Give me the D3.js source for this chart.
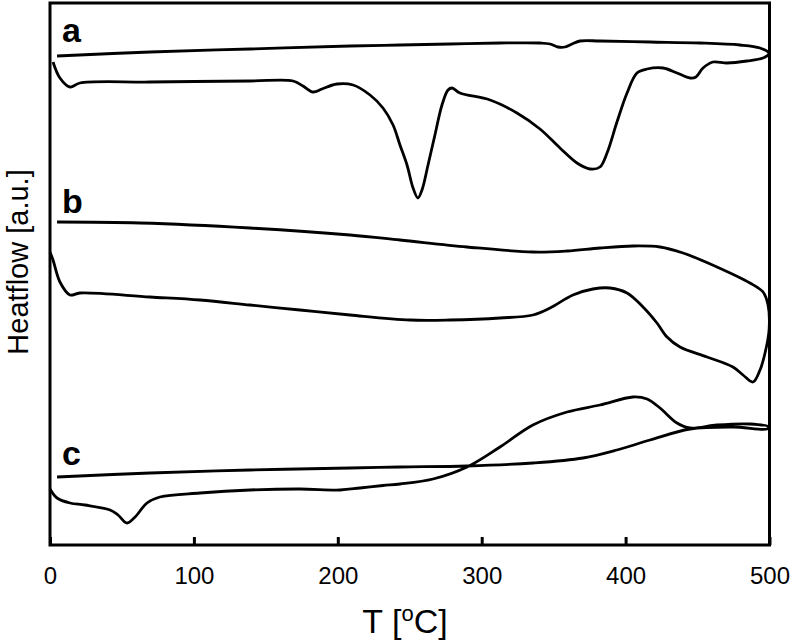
<!DOCTYPE html>
<html>
<head>
<meta charset="utf-8">
<script src="https://cdn.jsdelivr.net/npm/d3@7"></script>
<style>
  html, body { margin: 0; padding: 0; background: #fff; }
  svg { display: block; }
  text { font-family: "Liberation Sans", Arial, sans-serif; fill: #000; }
</style>
</head>
<body>
<svg id="chart" width="791" height="643"></svg>
<script>
// ---- Data (T in °C, heat flow in arbitrary units) ----
const xTicks = [0, 100, 200, 300, 400, 500];
const sampleLabels = ["a", "b", "c"];

// sample a: heating (left→right) then cooling (right→left)
const aHeating = [[2.1,48.3],[6.9,46.7],[13.9,45.8],[20.8,46.2],[69.5,46.3],[139,46.4],[168.9,46.4],[175.8,45.9],[182.8,45.3],[189,45.6],[199.4,46.1],[210.6,46.0],[222.4,45.0],[231.4,43.7],[238.4,42.0],[243.2,40.0],[248.1,38.0],[252.3,35.7],[255.7,34.7],[258.5,35.5],[262.7,38.0],[267.5,41.0],[272.4,44.0],[276.6,45.5],[279.4,45.7],[284.9,45.2],[305.8,44.5],[324.5,43.2],[340.5,41.6],[354.4,39.7],[366.2,38.2],[375.3,37.6],[382.2,37.8],[387.1,39.2],[394.0,42.3],[401.0,45.2],[407.9,47.2],[414.9,47.6],[426.0,47.7],[435.7,47.2],[444.8,46.7],[448.9,46.8],[453.8,47.7],[460.7,48.3],[470.5,48.2],[484.4,48.4],[495.5,48.7],[499.7,49.1]];
const aCooling = [[499.7,49.2],[493.4,49.7],[479.5,50.0],[451.7,50.2],[417,50.3],[382.2,50.4],[368.3,50.4],[362.8,50.1],[357.9,49.8],[353.0,49.8],[347.5,50.1],[340.5,50.2],[312.7,50.2],[278,50.1],[243.2,50.0],[208.5,49.9],[139,49.6],[69.5,49.3],[4.9,48.9]];

// sample b
const bHeating = [[0,29.3],[2.1,28.5],[6.9,26.3],[13.9,25.0],[20.8,25.2],[69.5,24.8],[104.2,24.5],[139,24.0],[173.7,23.5],[208.5,23.0],[250.2,22.5],[278,22.5],[312.7,22.7],[335.6,23.0],[347.5,23.7],[363.4,25.0],[377.3,25.6],[389.2,25.7],[401,25.2],[412.1,23.8],[421.8,22.2],[428.8,20.8],[437.8,19.8],[456.6,18.8],[474.6,17.8],[481.6,17.0],[488.5,16.3],[493.4,17.5],[496.9,19.2],[499.7,21.5]];
const bCooling = [[499,24.0],[495.5,25.3],[486.4,26.2],[463.5,27.8],[439.9,29.2],[423.9,29.8],[405.1,29.9],[382.2,29.7],[359.3,29.4],[335.6,29.3],[289.8,29.8],[243.2,30.5],[208.5,31.0],[139,31.7],[62.5,32.2],[4.9,32.3]];

// sample c
const cHeating = [[0,5.6],[4.9,4.7],[13.9,4.2],[24.3,4.0],[41.7,3.5],[47.3,3.0],[53.5,2.2],[59.1,2.8],[67.4,4.2],[76.4,4.8],[104.2,5.2],[139,5.5],[173.7,5.6],[201.5,5.5],[215.4,5.7],[231.4,5.95],[243.2,6.1],[266.2,6.6],[289.8,7.8],[312.7,9.8],[335.6,12.0],[359.3,13.3],[382.2,14.0],[405.1,14.8],[414.9,14.6],[423.9,13.7],[435.7,12.2],[444.8,11.7],[463.5,12.0],[486.4,12.1],[499.7,11.8]];
const cCooling = [[498.3,11.6],[474.6,11.8],[444.8,11.6],[417,10.5],[394,9.5],[370.4,8.7],[335.6,8.2],[289.8,7.9],[243.2,7.8],[208.5,7.7],[139,7.5],[69.5,7.2],[4.9,6.8]];

const curves = [aHeating.concat(aCooling), bHeating.concat(bCooling), cHeating.concat(cCooling)];
const labelPos = [[0, 50.3], [0, 33.2], [0, 8.0]]; // label anchor in data units (offset applied in px)

// ---- Layout ----
const svg = d3.select("#chart");
const mLeft = 50, mRight = 769.5, mTop = 3, mBottom = 545;
const x = d3.scaleLinear().domain([0, 500]).range([mLeft, mRight]);
const y = d3.scaleLinear().domain([0, 54.2]).range([mBottom, mTop]);

// curves
const line = d3.line().x(d => x(d[0])).y(d => y(d[1])).curve(d3.curveCatmullRom.alpha(0.5));
svg.append("g").selectAll("path").data(curves).join("path")
  .attr("d", line)
  .attr("fill", "none")
  .attr("stroke", "#000")
  .attr("stroke-width", 2.8)
  .attr("stroke-linejoin", "round");

// frame
svg.append("rect")
  .attr("x", mLeft).attr("y", mTop)
  .attr("width", mRight - mLeft).attr("height", mBottom - mTop)
  .attr("fill", "none").attr("stroke", "#000").attr("stroke-width", 3);

// bottom axis (ticks pointing inward)
const xAxis = d3.axisBottom(x).tickValues(xTicks).tickSizeInner(-8).tickSizeOuter(0).tickPadding(22).tickFormat(d3.format("d"));
const gx = svg.append("g").attr("transform", `translate(0,${mBottom})`).call(xAxis);
gx.select(".domain").remove();
gx.selectAll(".tick line").attr("stroke", "#000").attr("stroke-width", 3);
gx.selectAll(".tick text").attr("font-size", 24).attr("font-family", "Liberation Sans, Arial, sans-serif").attr("fill", "#000");

// axis titles
const xt = svg.append("text").attr("x", 405).attr("y", 633).attr("text-anchor", "middle").attr("font-size", 34);
xt.append("tspan").text("T [");
xt.append("tspan").attr("font-size", 22).attr("dy", -12).text("o");
xt.append("tspan").attr("dy", 12).text("C]");

svg.append("text")
  .attr("transform", `translate(28,262) rotate(-90)`)
  .attr("text-anchor", "middle").attr("font-size", 29)
  .text("Heatflow [a.u.]");

// sample labels
svg.append("g").selectAll("text").data(sampleLabels).join("text")
  .attr("x", (d, i) => x(labelPos[i][0]) + 12)
  .attr("y", (d, i) => y(labelPos[i][1]))
  .attr("font-size", 34).attr("font-weight", "bold")
  .text(d => d);
</script>
</body>
</html>
